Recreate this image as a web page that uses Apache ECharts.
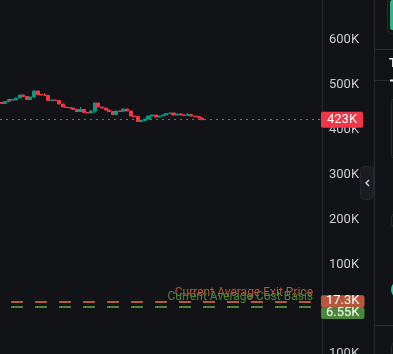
<!DOCTYPE html>
<html>
<head>
<meta charset="utf-8">
<script src="https://cdn.jsdelivr.net/npm/echarts@6/dist/echarts.min.js"></script>
<style>
html,body{margin:0;padding:0;background:#121317;overflow:hidden;}
#chart{width:393px;height:354px;}
</style>
</head>
<body>
<div id="chart"></div>
<script>
// prices in thousands (K)
var opens  = [461.1,458.9,463.3,467.8,466.7,471.1,477.8,474.4,467.8,473.3,486.7,478.9,477.8,477.1,465.6,466.7,465.6,457.8,451.1,450.0,448.9,445.6,441.1,445.6,438.9,437.8,442.2,460.0,451.1,448.9,444.4,441.1,434.4,442.2,441.6,446.7,442.2,431.1,430.0,418.9,421.1,424.4,431.1,433.3,428.9,431.1,433.3,436.7,437.8,433.3,435.6,433.3,432.7,434.4,431.1,430.0,426.7];
var closes = [458.9,463.3,467.8,466.7,471.1,477.8,474.4,467.8,473.3,486.7,478.9,477.8,477.1,465.6,466.7,465.6,457.8,451.1,450.0,448.9,445.6,441.1,445.6,438.9,437.8,442.2,460.0,451.1,448.9,444.4,441.1,434.4,442.2,441.6,446.7,442.2,431.1,430.0,418.9,421.1,424.4,431.1,433.3,428.9,431.1,433.3,436.7,437.8,433.3,435.6,433.3,432.7,434.4,431.1,430.0,426.7,423.0];
var lows   = [458.0,458.9,463.3,466.7,466.7,471.1,474.4,467.8,467.8,473.3,478.9,477.8,477.1,465.6,465.6,465.6,457.8,451.1,450.0,448.9,445.6,441.1,441.1,438.9,437.8,437.8,437.8,451.1,448.9,444.4,441.1,434.4,434.4,441.6,441.6,442.2,431.1,430.0,418.9,418.0,421.1,424.4,431.1,428.9,428.9,431.1,433.3,436.7,433.3,433.3,433.3,432.7,432.7,431.1,430.0,426.7,422.2];
var highs  = [461.8,463.3,468.9,467.8,471.1,477.8,478.3,474.4,473.3,487.3,486.7,478.9,482.2,477.1,466.7,466.7,465.6,457.8,451.1,450.0,448.9,445.6,451.1,445.6,438.9,442.2,460.0,460.0,451.1,448.9,444.4,441.1,442.2,442.2,446.7,446.7,442.2,431.1,430.0,421.1,424.4,431.1,433.3,433.3,431.1,433.3,436.7,437.8,437.8,435.6,437.8,433.3,437.8,434.4,431.1,430.0,426.7];
var slotCount = 90;          // candle slots incl. empty space on the right
var lastPrice = 423;
var exitPrice = 17.3;
var costBasis = 6.55;
var exitText = 'Current Average Exit Price';
var costText = 'Current Average Cost Basis';
var lowerPaneTick = '100K';

var upColor = '#089981', downColor = '#f23645';
var exitColor = '#b5583d', costColor = '#4b8736';
var lineColor = '#2a2b30';
var font = 'Roboto, "Noto Sans", sans-serif';

var slots = [];
for (var i = 0; i < slotCount; i++) slots.push(String(i));
var candles = opens.map(function (o, i) { return [o, closes[i], lows[i], highs[i]]; });

function kLabel(p) { return p.value + 'K'; }
function boxLabel(bg, offY) {
  return { show: true, position: 'end', distance: -1, formatter: kLabel, backgroundColor: bg,
    color: '#ffffff', fontSize: 13, fontFamily: font, lineHeight: 12, padding: [0, 5],
    borderRadius: 2, offset: [0, offY] };
}

var chart = echarts.init(document.getElementById('chart'));
var option = {
  backgroundColor: '#121317',
  animation: false,
  grid: { left: 0, right: 71, top: 1, height: 309 },
  xAxis: { type: 'category', data: slots, boundaryGap: true, show: false },
  yAxis: {
    type: 'value', position: 'right', min: 0, max: 686.7, interval: 100,
    axisLine: { show: false }, axisTick: { show: false }, splitLine: { show: false },
    axisLabel: { formatter: function (v) { return v + 'K'; }, color: '#c9cbd1', fontSize: 13,
      fontFamily: font, margin: 7, showMaxLabel: false, showMinLabel: false }
  },
  series: [{
    type: 'candlestick',
    data: candles,
    barWidth: '100%',
    itemStyle: { color: upColor, color0: downColor, borderColor: upColor, borderColor0: downColor, borderWidth: 1 },
    markLine: {
      silent: true, symbol: ['none', 'none'], animation: false,
      data: [
        { yAxis: lastPrice, lineStyle: { color: downColor, width: 1, type: [2, 4] },
          label: { show: true, position: 'end', distance: -1, formatter: kLabel, backgroundColor: downColor,
            color: '#ffffff', fontSize: 13, fontFamily: font, lineHeight: 12, padding: [2, 6], borderRadius: 2 } },
        { yAxis: exitPrice, lineStyle: { color: exitColor, width: 2, type: [12, 12], dashOffset: 13 },
          label: { show: true, position: 'insideEndTop', distance: [9, 3], formatter: exitText,
            color: exitColor, fontSize: 12, fontFamily: font } },
        { yAxis: costBasis, lineStyle: { color: costColor, width: 2, type: [12, 12], dashOffset: 13 },
          label: { show: true, position: 'insideEndTop', distance: [9, 4], formatter: costText,
            color: costColor, fontSize: 12, fontFamily: font } },
        { yAxis: exitPrice, lineStyle: { color: 'rgba(0,0,0,0)', width: 0 }, label: boxLabel(exitColor, -1) },
        { yAxis: costBasis, lineStyle: { color: 'rgba(0,0,0,0)', width: 0 }, label: boxLabel(costColor, 6) }
      ]
    }
  }],
  graphic: [
    { type: 'line', z: 1, shape: { x1: 322.5, y1: 0, x2: 322.5, y2: 354 }, style: { stroke: lineColor, lineWidth: 1 } },
    { type: 'line', z: 1, shape: { x1: 374.5, y1: 0, x2: 374.5, y2: 354 }, style: { stroke: lineColor, lineWidth: 1 } },
    { type: 'line', z: 1, shape: { x1: 375, y1: 49.5, x2: 393, y2: 49.5 }, style: { stroke: lineColor, lineWidth: 1 } },
    { type: 'line', z: 1, shape: { x1: 375, y1: 80.5, x2: 393, y2: 80.5 }, style: { stroke: lineColor, lineWidth: 1 } },
    { type: 'line', z: 1, shape: { x1: 375, y1: 325.5, x2: 393, y2: 325.5 }, style: { stroke: lineColor, lineWidth: 1 } },
    { type: 'rect', z: 1, shape: { x: 387.5, y: -6, width: 20, height: 40, r: 5 }, style: { fill: 'none', stroke: lineColor } },
    { type: 'rect', z: 1, shape: { x: 390, y: 0, width: 10, height: 30, r: 2 }, style: { fill: '#26b98a' } },
    { type: 'text', z: 1, x: 389, y: 64, style: { text: 'T', fill: '#e8e8e8', font: 'bold 13px ' + font, verticalAlign: 'middle' } },
    { type: 'rect', z: 1, shape: { x: 390, y: 79.5, width: 10, height: 2 }, style: { fill: '#e8e8e8' } },
    { type: 'rect', z: 1, shape: { x: 391.5, y: 97.5, width: 20, height: 62, r: 5 }, style: { fill: 'none', stroke: lineColor } },
    { type: 'rect', z: 1, shape: { x: 391.5, y: 213.5, width: 20, height: 14, r: 4 }, style: { fill: 'none', stroke: lineColor } },
    { type: 'circle', z: 1, shape: { cx: 400, cy: 289.5, r: 9 }, style: { fill: '#2bd1a2' } },
    { type: 'rect', z: 1, shape: { x: 391.5, y: 342.5, width: 20, height: 20, r: 4 }, style: { fill: 'none', stroke: lineColor } },
    { type: 'rect', z: 5, shape: { x: 360.5, y: 166.5, width: 13, height: 33, r: 4 }, style: { fill: '#1b1c21', stroke: '#26272c' } },
    { type: 'polyline', z: 6, shape: { points: [[369, 180], [366, 183], [369, 186]] }, style: { stroke: '#c9cbd1', lineWidth: 1.5, fill: 'none' } },
    { type: 'text', z: 1, x: 329, y: 354, style: { text: lowerPaneTick, fill: '#c9cbd1', font: '13px ' + font, verticalAlign: 'middle' } }
  ]
};
chart.setOption(option);
</script>
</body>
</html>
